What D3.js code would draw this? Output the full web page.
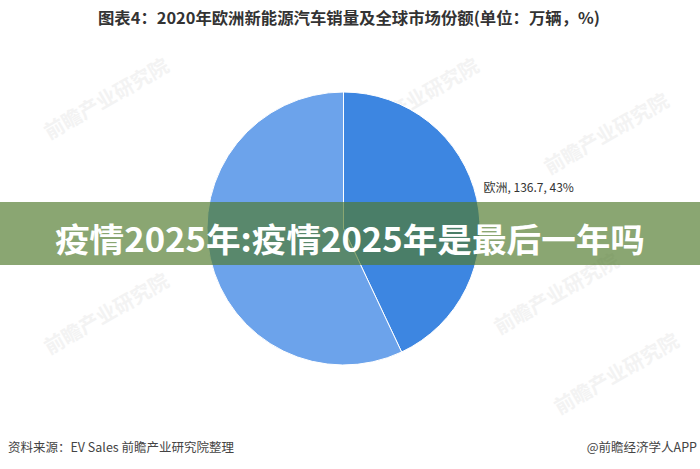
<!DOCTYPE html>
<html>
<head>
<meta charset="utf-8">
<script src="https://cdn.jsdelivr.net/npm/d3@7"></script>
<style>
  body { margin: 0; background: #fff; }
  svg { display: block; font-family: "Noto Sans CJK SC", "Noto Sans", sans-serif; }
</style>
</head>
<body>
<div id="chart"></div>
<script>
// data
var regions = ["欧洲", "其他"];
var sales = [136.7, 181.2];
var shares = ["43%", "57%"];
var colors = ["#3d86e1", "#6ca3eb"];

var w = 700, h = 469;
var cx = 343.5, cy = 228.5, radius = 136.5;

var svg = d3.select("#chart").append("svg")
    .attr("width", w)
    .attr("height", h);

// faint watermarks
var marks = [[110, 105], [420, 105], [610, 140], [110, 320], [560, 300], [620, 380]];
svg.selectAll(".wm")
    .data(marks)
    .enter().append("text")
    .attr("class", "wm")
    .attr("transform", function(d) { return "translate(" + d[0] + "," + d[1] + ") rotate(-30)"; })
    .attr("text-anchor", "middle")
    .style("font-size", "20px")
    .style("font-weight", "bold")
    .style("fill", "#f3f3f3")
    .text("前瞻产业研究院");

// title
svg.append("text")
    .attr("x", 349)
    .attr("y", 24)
    .attr("text-anchor", "middle")
    .attr("textLength", 502)
    .attr("lengthAdjust", "spacingAndGlyphs")
    .style("font-size", "16px")
    .style("font-weight", "bold")
    .style("fill", "#333")
    .text("图表4：2020年欧洲新能源汽车销量及全球市场份额(单位：万辆，%)");

// pie
var pie = d3.pie().sort(null).value(function(d) { return d; });
var arc = d3.arc().innerRadius(0).outerRadius(radius);
var labelArc = d3.arc().innerRadius(radius + 8).outerRadius(radius + 8);

var g = svg.append("g").attr("transform", "translate(" + cx + "," + cy + ")");
var arcs = pie(sales);

g.selectAll("path")
    .data(arcs)
    .enter().append("path")
    .attr("d", arc)
    .attr("fill", function(d, i) { return colors[i]; })
    .attr("stroke", "#fff")
    .attr("stroke-width", 1);

// only the Europe slice carries a label
var p = labelArc.centroid(arcs[0]);
g.append("text")
    .attr("x", p[0] - 1)
    .attr("y", p[1] - 5)
    .style("font-size", "12px")
    .style("fill", "#333")
    .text(regions[0] + ", " + sales[0] + ", " + shares[0]);

// footer
svg.append("text")
    .attr("x", 8)
    .attr("y", 452)
    .style("font-size", "12.5px")
    .style("fill", "#444")
    .text("资料来源：EV Sales 前瞻产业研究院整理");

svg.append("text")
    .attr("x", 697)
    .attr("y", 452)
    .attr("text-anchor", "end")
    .style("font-size", "12.5px")
    .style("fill", "#444")
    .text("@前瞻经济学人APP");

// banner overlay
svg.append("rect")
    .attr("x", 0)
    .attr("y", 202)
    .attr("width", w)
    .attr("height", 63)
    .attr("fill", "rgb(80,122,45)")
    .attr("fill-opacity", 0.67);

svg.append("text")
    .attr("x", 350)
    .attr("y", 252)
    .attr("text-anchor", "middle")
    .attr("textLength", 590)
    .attr("lengthAdjust", "spacingAndGlyphs")
    .style("font-size", "33px")
    .style("font-weight", "bold")
    .style("fill", "#fff")
    .text("疫情2025年:疫情2025年是最后一年吗");
</script>
</body>
</html>
